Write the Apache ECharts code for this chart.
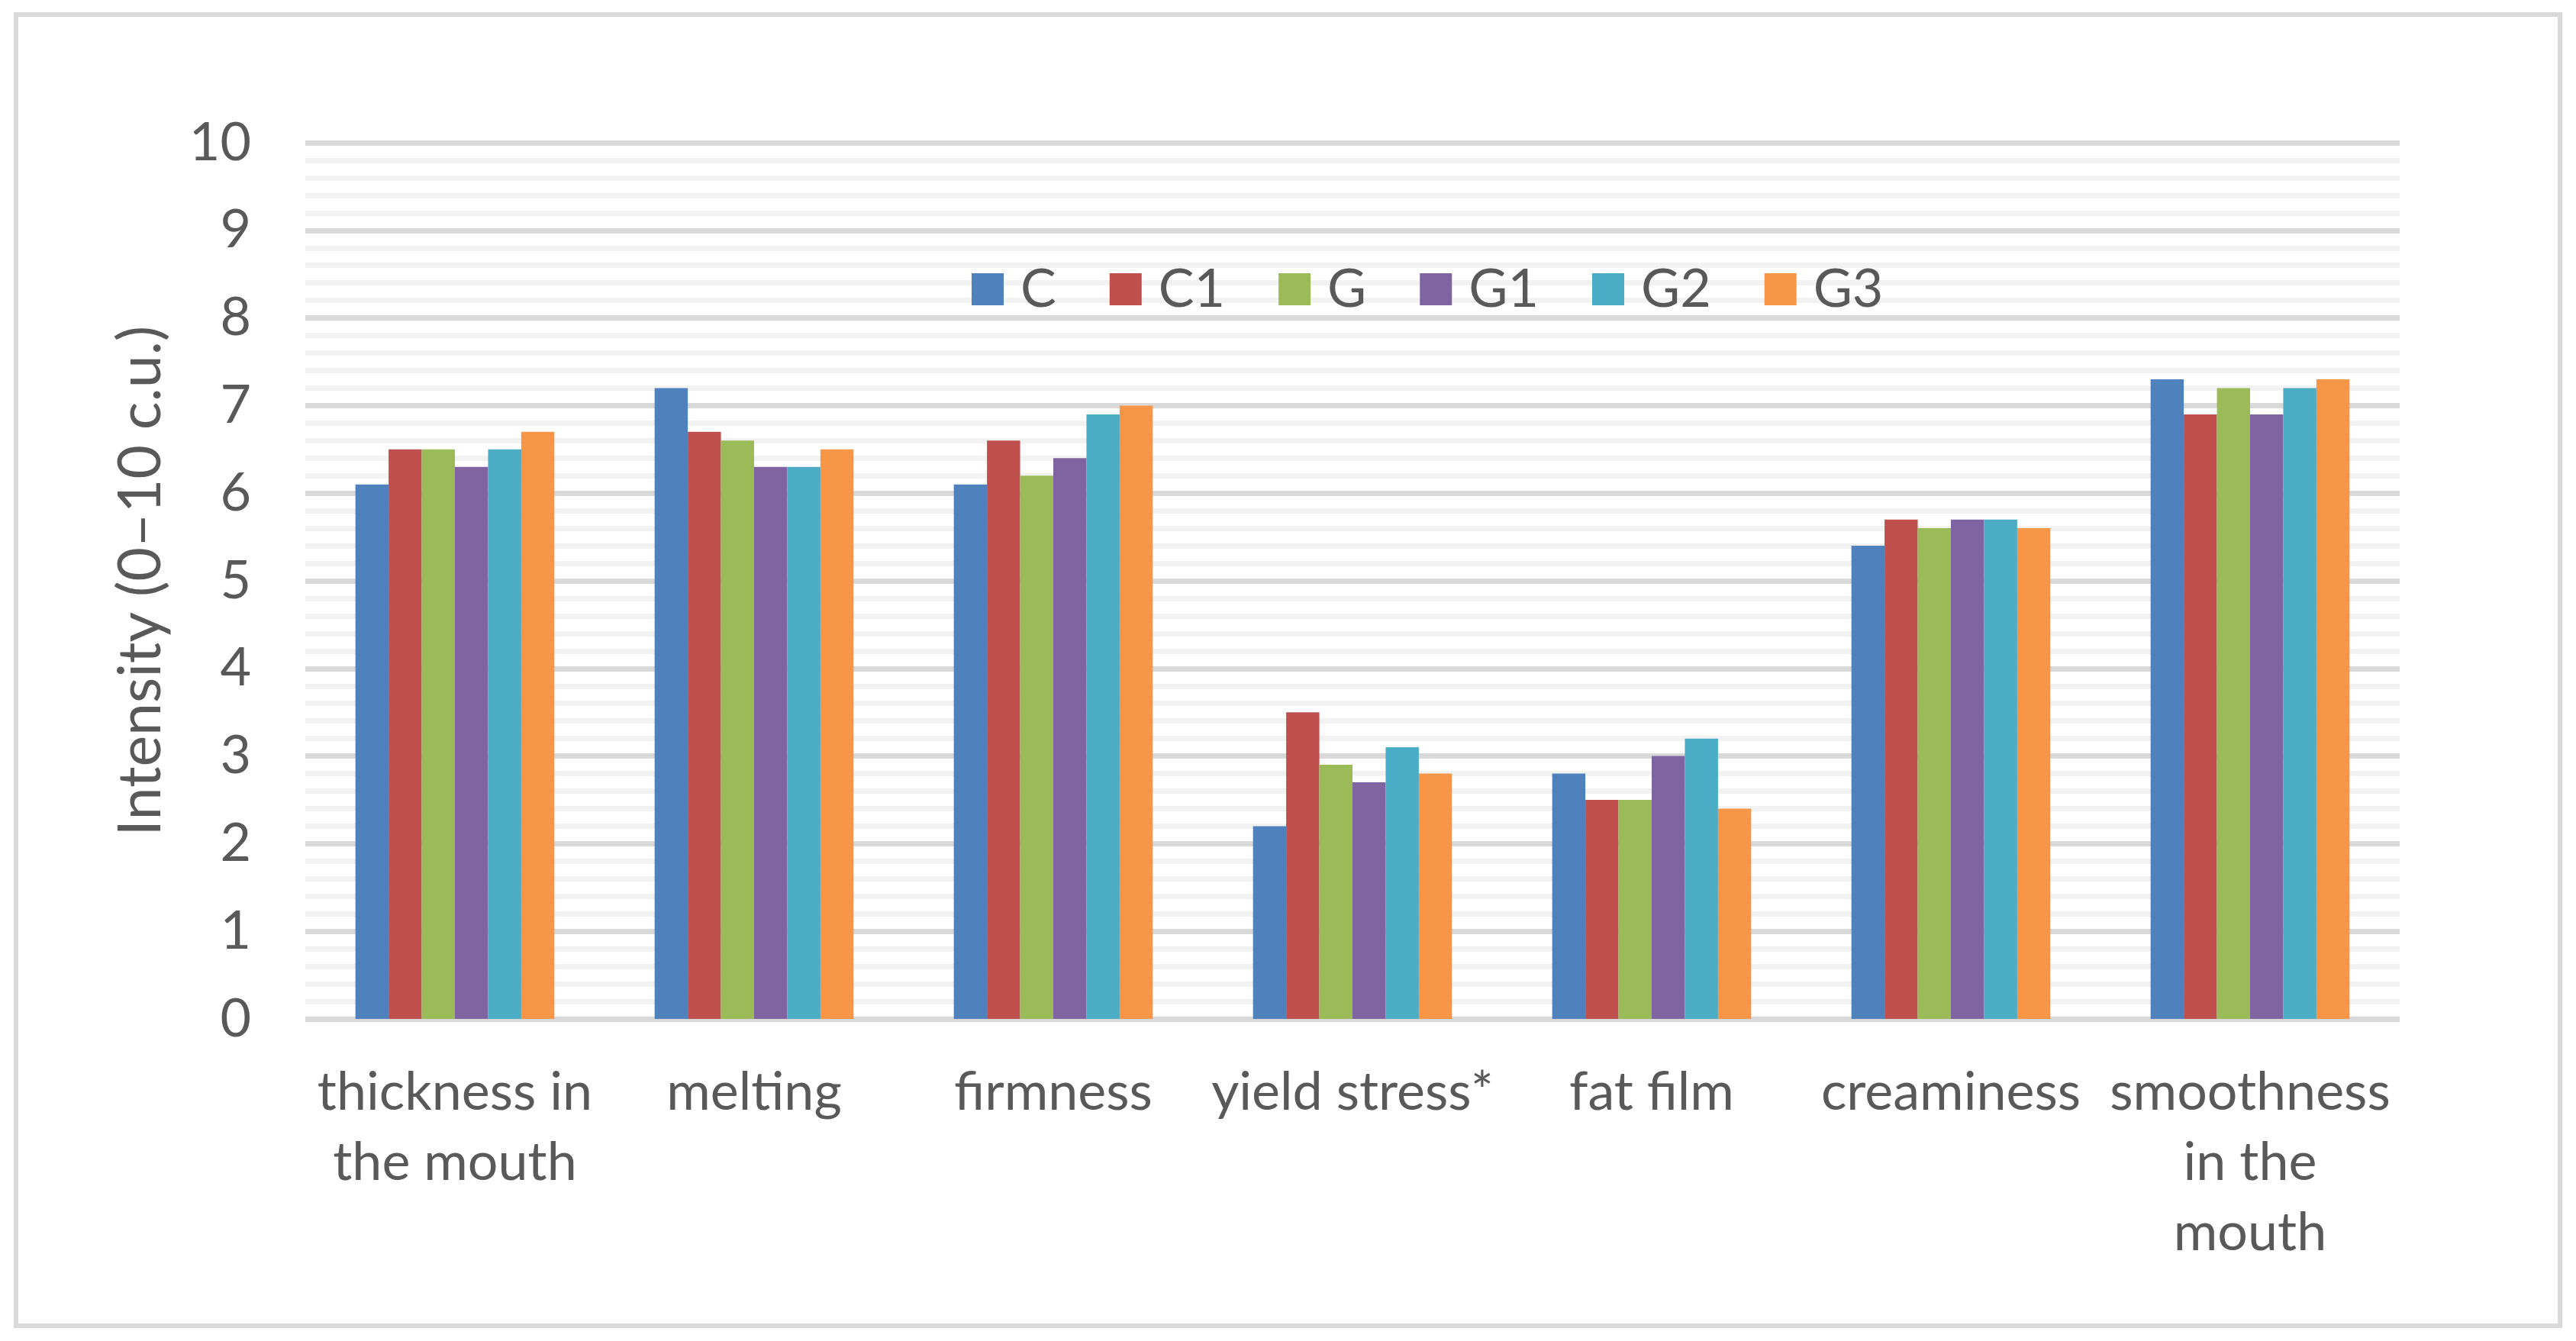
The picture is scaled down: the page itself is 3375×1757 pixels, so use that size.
<!DOCTYPE html>
<html>
<head>
<meta charset="utf-8">
<script src="https://cdn.jsdelivr.net/npm/echarts@6/dist/echarts.min.js"></script>
<style>
html,body{margin:0;padding:0;background:#fff;}
#chart{width:3375px;height:1757px;}
</style>
</head>
<body>
<div id="chart"></div>
<script>
const categories = ['thickness in\nthe mouth', 'melting', 'firmness', 'yield stress*', 'fat film', 'creaminess', 'smoothness\nin the\nmouth'];
const seriesNames = ['C', 'C1', 'G', 'G1', 'G2', 'G3'];
const valC  = [6.1, 7.2, 6.1, 2.2, 2.8, 5.4, 7.3];
const valC1 = [6.5, 6.7, 6.6, 3.5, 2.5, 5.7, 6.9];
const valG  = [6.5, 6.6, 6.2, 2.9, 2.5, 5.6, 7.2];
const valG1 = [6.3, 6.3, 6.4, 2.7, 3.0, 5.7, 6.9];
const valG2 = [6.5, 6.3, 6.9, 3.1, 3.2, 5.7, 7.2];
const valG3 = [6.7, 6.5, 7.0, 2.8, 2.4, 5.6, 7.3];
const yTicks = [0, 1, 2, 3, 4, 5, 6, 7, 8, 9, 10];
const colors = ['#4F81BD', '#C0504D', '#9BBB59', '#8064A2', '#4BACC6', '#F79646'];
const allValues = [valC, valC1, valG, valG1, valG2, valG3];

const FONT = 'Lato, "Open Sans", sans-serif';
const TXT = '#595959';

const chart = echarts.init(document.getElementById('chart'), null, {renderer: 'canvas'});
chart.setOption({
  animation: false,
  backgroundColor: '#ffffff',
  color: colors,
  graphic: [{
    type: 'rect',
    shape: {x: 21, y: 19, width: 3333, height: 1718},
    style: {fill: 'none', stroke: '#D9D9D9', lineWidth: 6},
    silent: true
  }],
  legend: {
    left: 1268,
    top: 339,
    itemWidth: 42,
    itemHeight: 42,
    itemGap: 70,
    icon: 'rect',
    data: seriesNames,
    textStyle: {fontFamily: FONT, fontSize: 70, color: TXT, lineHeight: 70, padding: [0, 0, 0, 17]}
  },
  grid: {left: 400, right: 231, top: 187, bottom: 422, containLabel: false},
  xAxis: {
    type: 'category',
    data: categories,
    axisTick: {show: false},
    axisLine: {show: false},
    axisLabel: {
      interval: 0,
      margin: 50,
      fontFamily: FONT, fontSize: 70, color: TXT, lineHeight: 92
    }
  },
  yAxis: {
    type: 'value',
    min: yTicks[0],
    max: yTicks[yTicks.length - 1],
    interval: 1,
    name: 'Intensity (0–10 c.u.)',
    nameLocation: 'middle',
    nameRotate: 90,
    nameGap: 176,
    nameTextStyle: {fontFamily: FONT, fontSize: 77, color: TXT},
    axisLine: {show: false},
    axisTick: {show: false},
    axisLabel: {margin: 71, fontFamily: FONT, fontSize: 70, color: TXT},
    splitLine: {show: true, lineStyle: {color: '#D9D9D9', width: 7}},
    minorTick: {show: false, splitNumber: 5},
    minorSplitLine: {show: true, lineStyle: {color: '#F2F2F2', width: 7}}
  },
  series: seriesNames.map((n, i) => ({
    name: n,
    type: 'bar',
    data: allValues[i],
    barGap: '0%',
    barCategoryGap: '33.5%',
    itemStyle: {color: colors[i]}
  }))
});
</script>
</body>
</html>
